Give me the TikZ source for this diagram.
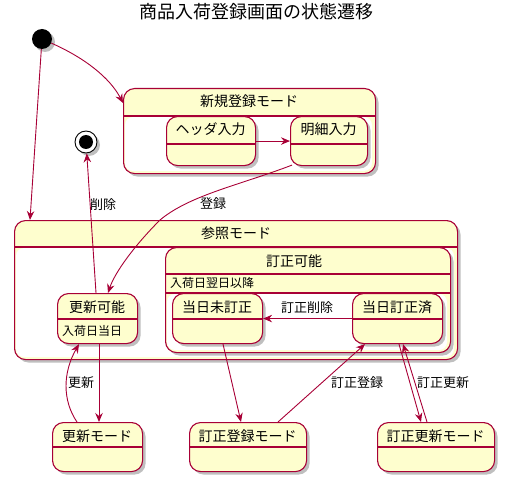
\documentclass[tikz,border=0pt]{standalone}
\usepackage{fontspec}
\setmainfont{Noto Sans CJK JP}
\usetikzlibrary{shadows,calc,arrows.meta}
\definecolor{pcol}{HTML}{A80036}
\definecolor{pfill}{HTML}{FEFECE}
\tikzset{
 shad/.style={drop shadow={shadow xshift=3pt, shadow yshift=-3pt, opacity=0.25, fill=black}},
 stbox/.style={draw=pcol, fill=pfill, line width=1.1pt, rounded corners=11pt, inner sep=0pt, anchor=north west, shad},
 sepline/.style={draw=pcol, line width=1.1pt},
 sttext/.style={font=\fontsize{14}{16}\selectfont, inner sep=0pt},
 desc/.style={font=\fontsize{12}{14}\selectfont, inner sep=0pt, anchor=west},
 lab/.style={font=\fontsize{13}{15}\selectfont, inner sep=0pt},
 arr/.style={draw=pcol, line width=0.9pt, -{Stealth[length=9pt,width=7.5pt,inset=3pt]}},
 innerbody/.style={fill=white, rounded corners=8pt},
}
% name, x1, y1, x2, y2, sep, text, texty
\newcommand\stbox[8]{%
 \node[stbox, minimum width={(#4-#2)*1pt}, minimum height={(#5-#3)*1pt}] (#1) at (#2,#3) {};
 \draw[sepline] (#2,#6) -- (#4,#6);
 \node[sttext] (#1t) at ({(#2+#4)/2},#8) {#7};
}
\begin{document}
\begin{tikzpicture}[x=1pt,y=-1pt]
\useasboundingbox (0,0) rectangle (505,481);
\node[font=\fontsize{18}{20}\selectfont, inner sep=0pt] (title) at (256,12) {商品入荷登録画面の状態遷移};

% initial and final
\node[circle, fill=black, minimum size=20pt, inner sep=0pt, shad] (init) at (42,39) {};
\node[circle, draw=black, fill=white, line width=0.9pt, minimum size=22pt, inner sep=0pt, shad] (final) at (86,142) {};
\fill[black] (final.center) circle (7pt);

% composite: 新規登録モード
\node[stbox, minimum width=252pt, minimum height=85pt] (comp1) at (123,88) {};
\fill[innerbody] (125,117) rectangle (372,171);
\draw[sepline] (123,116) -- (375,116);
\node[sttext] (comp1t) at (249,101) {新規登録モード};
\stbox{shdr}{166}{116}{255}{165}{144}{ヘッダ入力}{129}
\stbox{sdet}{290}{116}{367}{165}{144}{明細入力}{129}

% composite: 参照モード
\node[stbox, minimum width=443pt, minimum height=139pt] (comp2) at (14,220) {};
\fill[innerbody] (16,248) rectangle (454,357);
\draw[sepline] (14,247) -- (457,247);
\node[sttext] (comp2t) at (236,233) {参照モード};

% composite: 訂正可能
\node[stbox, minimum width=285pt, minimum height=105pt] (comp3) at (165,247) {};
\fill[innerbody] (167,294) rectangle (447,350);
\draw[sepline] (165,274) -- (450,274);
\draw[sepline] (165,293) -- (450,293);
\node[sttext] (comp3t) at (294,261) {訂正可能};
\node[desc] (comp3d) at (170,283) {入荷日翌日以降};
\stbox{smi}{172}{293}{262}{343}{319}{当日未訂正}{307}
\stbox{szumi}{352}{293}{442}{343}{319}{当日訂正済}{307}

% 更新可能
\stbox{skk}{57}{293}{137}{343}{319}{更新可能}{307}
\node[desc] (skkd) at (62,331) {入荷日当日};

% bottom states
\stbox{skm}{52}{422}{142}{471}{447}{更新モード}{436}
\stbox{stt}{189}{422}{306}{471}{447}{訂正登録モード}{436}
\stbox{stk}{377}{422}{494}{471}{447}{訂正更新モード}{436}

% connectors
\draw[arr] (init) .. controls (85,58) and (110,78) .. ($(comp1.north west)+(0,15)$);
\draw[arr] (init) -- ($(comp2.north west)+(16,0)$);
\draw[arr] (shdr.east) -- (sdet.west);
\draw[arr] ($(sdet.south west)+(2,-1)$) .. controls (240,185) and (190,195) .. (160,220) .. controls (135,245) and (115,272) .. ($(skk.north west)+(51,0)$);
\draw[arr] ($(skk.north west)+(39,0)$) -- (final);
\draw[arr] (szumi.west) -- (smi.east);
\draw[arr] ($(skk.south west)+(42,0)$) -- ($(skm.north west)+(47,0)$);
\draw[arr] ($(skm.north west)+(25,0)$) .. controls (62,400) and (63,372) .. ($(skk.south west)+(22,0)$);
\draw[arr] ($(smi.south west)+(51,0)$) -- ($(stt.north west)+(52,0)$);
\draw[arr] ($(stt.north west)+(89,0)$) -- ($(szumi.south west)+(13,0)$);
\draw[arr] ($(szumi.south west)+(47,0)$) -- ($(stk.north west)+(44,0)$);
\draw[arr] ($(stk.north west)+(50,0)$) -- ($(szumi.south west)+(51,0)$);

% labels
\node[lab] (l1) at (103,205) {削除};
\node[lab] (l2) at (213,204) {登録};
\node[lab] (l3) at (307,308) {訂正削除};
\node[lab] (l4) at (81,383) {更新};
\node[lab] (l5) at (357,383) {訂正登録};
\node[lab] (l6) at (443,383) {訂正更新};
\end{tikzpicture}
\end{document}
